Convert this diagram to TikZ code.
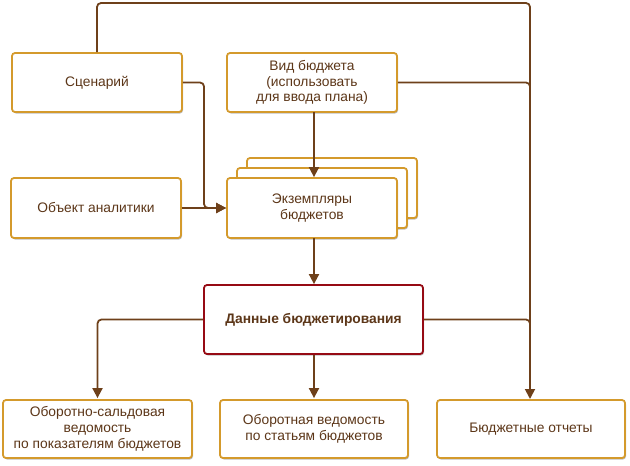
\documentclass[tikz,border=0pt]{standalone}
\usepackage{fontspec}
\setmainfont{Liberation Sans}
\usetikzlibrary{arrows.meta,shadows,calc}
\definecolor{boxgold}{RGB}{212,154,44}
\definecolor{txtbrown}{RGB}{92,54,24}
\definecolor{linebrown}{RGB}{110,64,26}
\definecolor{darkred}{RGB}{150,10,20}
\tikzset{
  box/.style={draw=boxgold, line width=1.8pt, fill=white, rounded corners=3pt,
    text=txtbrown, align=center, inner sep=0pt,
    font=\fontsize{13.8}{15.8}\selectfont,
    drop shadow={shadow xshift=1pt, shadow yshift=-1.5pt, opacity=0.25, fill=black}},
  conn/.style={draw=linebrown, line width=1.8pt, rounded corners=4pt},
  arr/.style={conn, -{Triangle[width=10pt,length=10pt]}},
}
\begin{document}
\begin{tikzpicture}[x=1pt,y=-1pt]
\useasboundingbox (0,0) rectangle (630,466);
% nodes
\node[box, minimum width=170pt, minimum height=59pt] (scen) at (97,82.5) {Сценарий};
\node[box, minimum width=170pt, minimum height=59pt] (vid) at (312,82.5) {Вид бюджета\\(использовать\\для ввода плана)};
\node[box, minimum width=170pt, minimum height=60pt] (obj) at (96,208) {Объект аналитики};
\node[box, minimum width=170pt, minimum height=60pt] (ekz3) at (332,188) {};
\node[box, minimum width=170pt, minimum height=60pt] (ekz2) at (322,198) {};
\node[box, minimum width=170pt, minimum height=60pt] (ekz) at (312,208) {Экземпляры\\бюджетов};
\node[box, draw=darkred, minimum width=219pt, minimum height=69pt, font=\fontsize{13.8}{15.8}\selectfont\bfseries] (dan) at (313.5,319.5) {Данные бюджетирования};
\node[box, minimum width=189pt, minimum height=58pt] (osv) at (97.5,429) {Оборотно-сальдовая\\ведомость\\по показателям бюджетов};
\node[box, minimum width=188pt, minimum height=58pt] (ov) at (314,429) {Оборотная ведомость\\по статьям бюджетов};
\node[box, minimum width=188pt, minimum height=58pt] (bo) at (531,429) {Бюджетные отчеты};
% connectors
\coordinate (topL) at (97,3);
\coordinate (topR) at (530,3);
\coordinate (bot) at (530,399);
\coordinate (bend) at (204,82.5);
\coordinate (vidb) at (314,112);
\coordinate (ekzb) at (314,238);
\draw[arr] (scen.north) -- (topL) -- (topR) -- (bot);
\draw[conn] (vid.east) -- (530,82.5) -- (530,120);
\draw[conn] (dan.east) -- (530,319.5) -- (530,360);
\draw[arr] (scen.east) -- (bend) |- (ekz.west);
\draw[arr] (obj.east) -- (ekz.west);
\draw[arr] (vidb) -- (vidb |- ekz.north);
\draw[arr] (ekzb) -- (ekzb |- dan.north);
\draw[arr] (dan.west) -| ($(osv.north)+(0,-1)$);
\draw[arr] (dan.south -| ekzb) -- ($(ekzb |- ov.north)+(0,-1)$);
\end{tikzpicture}
\end{document}
